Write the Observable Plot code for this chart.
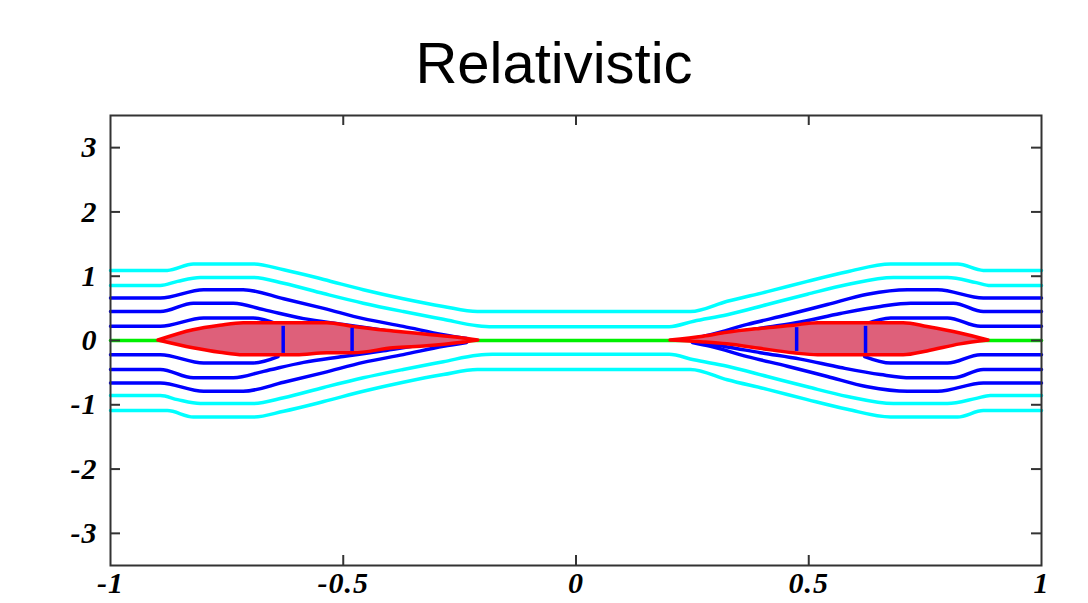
<!DOCTYPE html>
<html>
<head>
<meta charset="utf-8">
<script src="https://cdn.jsdelivr.net/npm/d3@7"></script>
<script src="https://cdn.jsdelivr.net/npm/@observablehq/plot@0.6"></script>
<style>
  html, body { margin: 0; padding: 0; background: #fff; }
  #wrap { position: relative; width: 1088px; height: 603px; overflow: hidden; }
  #title { position: absolute; left: 0; top: 34px; width: 1108px; text-align: center;
           font-family: "Liberation Sans", Arial, sans-serif; font-size: 58px; line-height: 58px; color: #000; }
  #chart { position: absolute; left: 0; top: 100px; }
</style>
</head>
<body>
<div id="wrap">
  <div id="title">Relativistic</div>
  <div id="chart"></div>
</div>
<script>
// ---- tick values ----
const xTicks = [-1, -0.5, 0, 0.5, 1];
const yTicks = [-3, -2, -1, 0, 1, 2, 3];
const innerXTicks = [-0.5, 0, 0.5];

// ---- field lines (upper half, mirrored below) : [x, y] ----
const cyanOuter = [[-1,1.09],[-0.878,1.09],[-0.822,1.19],[-0.693,1.19],[-0.628,1.10],[-0.542,0.95],[-0.457,0.79],[-0.371,0.65],[-0.285,0.53],[-0.212,0.45],[0.246,0.45],[0.325,0.61],[0.411,0.76],[0.497,0.92],[0.583,1.07],[0.676,1.19],[0.82,1.19],[0.875,1.09],[1,1.09]];
const cyanInner = [[-1,0.855],[-0.893,0.855],[-0.856,0.92],[-0.807,0.98],[-0.693,0.98],[-0.628,0.89],[-0.542,0.73],[-0.457,0.58],[-0.371,0.45],[-0.285,0.33],[-0.212,0.23],[-0.18,0.215],[0.2,0.215],[0.253,0.30],[0.325,0.40],[0.411,0.56],[0.497,0.72],[0.583,0.87],[0.682,0.98],[0.798,0.98],[0.86,0.9],[0.89,0.855],[1,0.855]];
const blue1Left = [[-1,0.66],[-0.893,0.66],[-0.80,0.79],[-0.715,0.79],[-0.628,0.65],[-0.542,0.50],[-0.457,0.34],[-0.371,0.22],[-0.285,0.09],[-0.235,0.03]];
const blue1Right = [[0.25,0.03],[0.289,0.09],[0.368,0.25],[0.454,0.40],[0.540,0.56],[0.626,0.72],[0.712,0.79],[0.777,0.79],[0.875,0.66],[1,0.66]];
const blue2Left = [[-1,0.45],[-0.893,0.45],[-0.822,0.58],[-0.736,0.58],[-0.671,0.48],[-0.585,0.34],[-0.50,0.25],[-0.414,0.16],[-0.319,0.06],[-0.25,0.02]];
const blue2Right = [[0.27,0.04],[0.325,0.10],[0.396,0.19],[0.482,0.29],[0.568,0.42],[0.654,0.53],[0.719,0.58],[0.811,0.58],[0.875,0.45],[1,0.45]];
const blue3Left = [[-1,0.22],[-0.893,0.22],[-0.80,0.35],[-0.693,0.35],[-0.64,0.25]];
const blue3Right = [[0.62,0.25],[0.676,0.35],[0.798,0.35],[0.869,0.22],[1,0.22]];
const centreLine = [[-1,0],[1,0]];

// ---- lenses ----
const lensLeftX      = [-0.897,-0.822,-0.764,-0.714,-0.6,-0.534,-0.478,-0.392,-0.32,-0.249,-0.21];
const lensLeftTop    = [0,0.16,0.23,0.27,0.27,0.27,0.21,0.14,0.09,0.04,0];
const lensLeftBottom = [0,-0.12,-0.19,-0.23,-0.23,-0.2,-0.2,-0.12,-0.09,-0.04,0];
const lensRightX      = [0.203,0.274,0.325,0.396,0.468,0.52,0.704,0.755,0.826,0.886];
const lensRightTop    = [0,0.06,0.12,0.18,0.23,0.27,0.27,0.21,0.11,0];
const lensRightBottom = [0,-0.03,-0.06,-0.13,-0.2,-0.23,-0.23,-0.17,-0.06,0];

// ---- blue chords inside lenses ----
const chordX  = [-0.629, -0.481, 0.474, 0.622];
const chordY1 = [-0.2, -0.17, -0.17, -0.2];
const chordY2 = [0.22, 0.19, 0.2, 0.22];

// ---- build tables ----
function mirrored(name, pts) {
  const rows = [];
  for (const s of [1, -1]) for (const [x, y] of pts) rows.push({id: name + s, x, y: s * y});
  return rows;
}
const cyanRows = [...mirrored("co", cyanOuter), ...mirrored("ci", cyanInner)];
const blueRows = [
  ...mirrored("b1l", blue1Left), ...mirrored("b1r", blue1Right),
  ...mirrored("b2l", blue2Left), ...mirrored("b2r", blue2Right),
  ...mirrored("b3l", blue3Left), ...mirrored("b3r", blue3Right)
];
const centreRows = centreLine.map(([x, y]) => ({x, y}));
const lensRows = [
  ...lensLeftX.map((x, i) => ({lens: "L", x, top: lensLeftTop[i], bottom: lensLeftBottom[i]})),
  ...lensRightX.map((x, i) => ({lens: "R", x, top: lensRightTop[i], bottom: lensRightBottom[i]}))
];
const chords = chordX.map((x, i) => ({x, y1: chordY1[i], y2: chordY2[i]}));

const W = 1088, H = 503, mL = 110, mR = 47, mT = 15, mB = 38;
const fw = W - mL - mR, fh = H - mT - mB, tick = 10;
const font = {fontFamily: "Liberation Serif, Times New Roman, serif", fontSize: 30, fontWeight: "bold", fontStyle: "italic"};
const lw = 3.5;

const chart = Plot.plot({
  width: W, height: H,
  marginLeft: mL, marginRight: mR, marginTop: mT, marginBottom: mB,
  x: {domain: [-1, 1]},
  y: {domain: [-3.5, 3.5]},
  style: {background: "#fff", color: "#000", ...font, fontSize: "30px", letterSpacing: "1px"},
  marks: [
    Plot.line(centreRows, {x: "x", y: "y", stroke: "#00f000", strokeWidth: lw}),
    Plot.line(cyanRows, {x: "x", y: "y", z: "id", stroke: "#00ffff", strokeWidth: lw, curve: "monotone-x"}),
    Plot.line(blueRows, {x: "x", y: "y", z: "id", stroke: "#0000ff", strokeWidth: lw, curve: "monotone-x"}),
    Plot.areaY(lensRows, {x: "x", y1: "bottom", y2: "top", z: "lens", fill: "#de607a", fillOpacity: 1, stroke: "#ff0000", strokeWidth: lw, curve: "monotone-x"}),
    Plot.ruleX(chords, {x: "x", y1: "y1", y2: "y2", stroke: "#0000ff", strokeWidth: lw}),
    Plot.frame({stroke: "#333", strokeWidth: 2}),
    Plot.tickY(yTicks, {y: d => d, insetRight: fw - tick, stroke: "#333", strokeWidth: 2}),
    Plot.tickY(yTicks, {y: d => d, insetLeft: fw - tick, stroke: "#333", strokeWidth: 2}),
    Plot.tickX(innerXTicks, {x: d => d, insetTop: fh - tick, stroke: "#333", strokeWidth: 2}),
    Plot.tickX(innerXTicks, {x: d => d, insetBottom: fh - tick, stroke: "#333", strokeWidth: 2}),
    Plot.axisX({ticks: xTicks, tickSize: 0, tickPadding: 6, tickFormat: d => String(d), label: null, ...font}),
    Plot.axisY({ticks: yTicks, tickSize: 0, tickPadding: 13, tickFormat: d => String(d), label: null, ...font})
  ]
});
document.getElementById("chart").appendChild(chart);
</script>
</body>
</html>
